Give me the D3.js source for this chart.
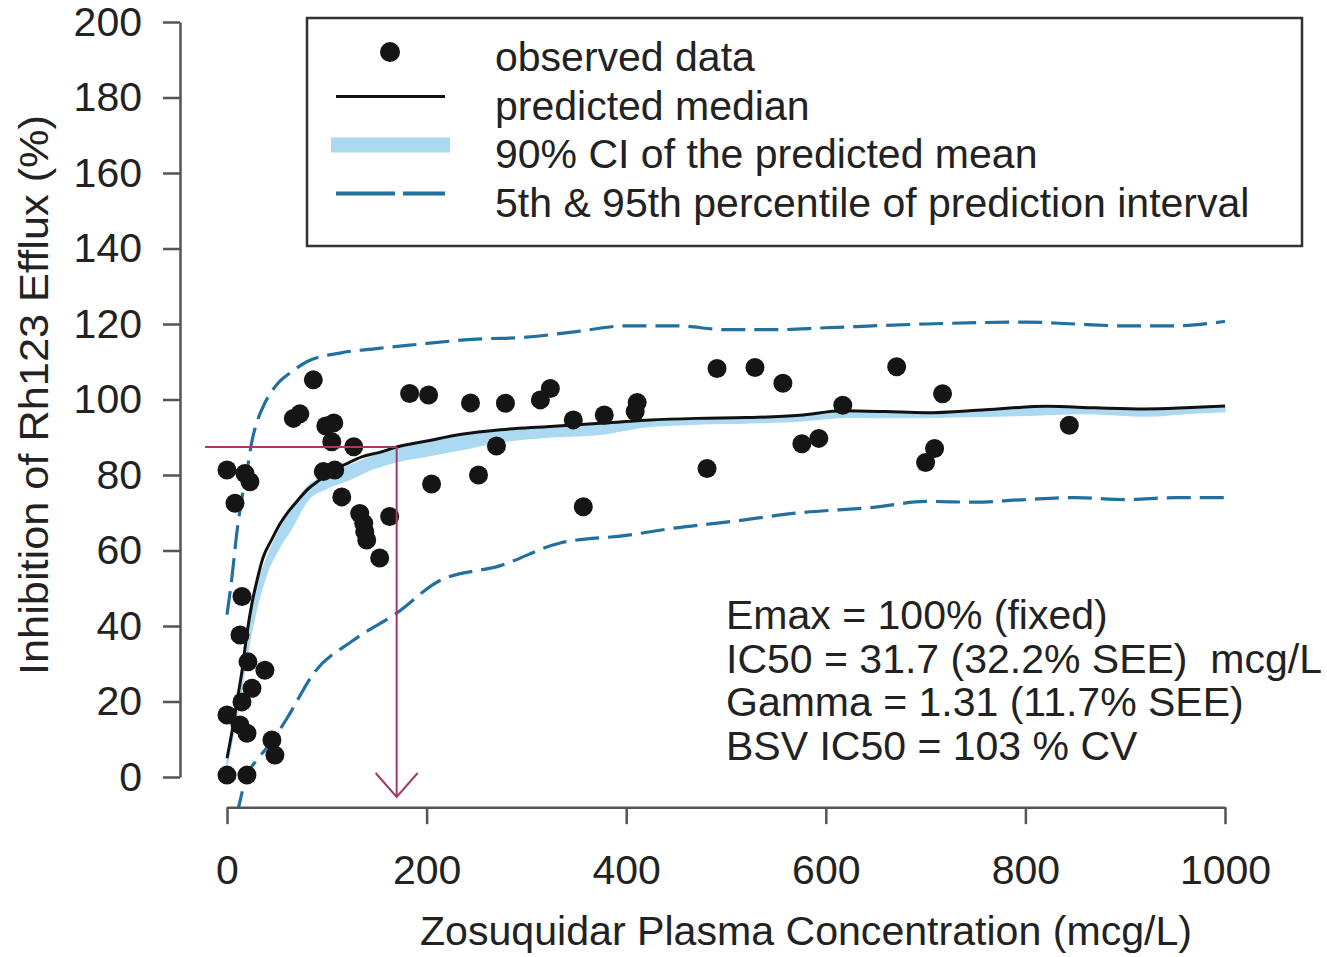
<!DOCTYPE html>
<html>
<head>
<meta charset="utf-8">
<script src="https://cdn.jsdelivr.net/npm/d3@7"></script>
<style>
  html, body { margin: 0; padding: 0; background: #fff; }
  svg { display: block; }
  text { font-family: "Liberation Sans", Arial, Helvetica, sans-serif; fill: #222; }
</style>
</head>
<body>
<svg id="chart" width="1327" height="957"></svg>
<script>
// ---------------- data ----------------
const xTicks = [0, 200, 400, 600, 800, 1000];
const yTicks = [0, 20, 40, 60, 80, 100, 120, 140, 160, 180, 200];

// observed data: concentration (mcg/L), inhibition (%)
const obsConc = [0, 20, 45, 48, 13, 20, 0, 15, 25, 38, 21, 13, 15, 153, 140, 138, 137, 133, 163, 115,
  96.5, 108, 8, 0, 18, 23, 105, 127, 99, 107, 66.5, 73, 86.5, 183, 202, 205, 244, 252, 270, 279,
  314, 324, 347, 357, 378, 409, 411, 481, 491, 529, 557, 576, 593, 617, 671, 700, 709, 717, 844];
const obsInh = [0.5, 0.5, 9.8, 5.8, 13.8, 11.6, 16.4, 19.9, 23.5, 28.3, 30.5, 37.6, 47.8, 58, 62.8, 65, 67.2, 69.8, 69, 74.2,
  80.9, 81.3, 72.5, 81.3, 80.4, 78.2, 88.8, 87.5, 93, 93.8, 95, 96.2, 105.2, 101.6, 101.2, 77.6, 99.1, 80, 87.7, 99,
  99.9, 102.9, 94.6, 71.6, 95.9, 96.8, 99.2, 81.7, 108.2, 108.5, 104.3, 88.3, 89.7, 98.5, 108.7, 83.3, 87, 101.5, 93.2];

// predicted median
const medConc = [0, 5, 10, 15, 20, 25, 30, 36, 45, 53, 62, 70, 80, 93, 105, 120, 135, 153, 170, 200, 235, 274,
  320, 374, 420, 470, 520, 574, 617, 660, 700, 760, 822, 870, 920, 960, 1000];
const medInh = [5, 12, 20, 28, 38, 46, 52, 58, 63, 67, 70.5, 73, 76, 78.7, 81, 83, 84.8, 86, 87.4, 89, 90.8, 92,
  92.8, 93.7, 94.5, 95, 95.2, 95.8, 97, 96.8, 96.5, 97.3, 98.2, 97.8, 97.5, 97.8, 98.3];

// 90% CI of the predicted mean
const ciConc = [0, 10, 20, 30, 40, 53, 65, 81, 100, 120, 145, 170, 200, 240, 274, 320, 374, 420, 470, 520, 574,
  620, 680, 740, 800, 860, 920, 960, 1000];
const ciLow = [3, 16, 32, 45, 54, 61, 66, 73.4, 76.5, 78.5, 81.5, 83.5, 85, 87, 88.8, 90, 90.8, 92.8, 93.5, 93.8, 94.3,
  95.3, 95.2, 95.5, 95.8, 96.3, 95.6, 96.3, 96.8];
const ciHigh = [5, 19, 36, 50, 58, 65.5, 71, 77, 80, 82.2, 84.8, 87, 88.5, 90.5, 91.8, 92.6, 93.5, 94.3, 94.8, 95, 95.6,
  96.8, 96.5, 96.8, 97.7, 97.7, 97.3, 97.6, 98.1];

// 95th percentile of prediction interval
const p95Conc = [0, 5, 10, 15, 20, 25, 30, 36, 50, 63, 80, 113, 150, 187, 250, 300, 350, 400, 450, 500, 550, 600,
  700, 800, 850, 900, 950, 1000];
const p95Inh = [43, 53, 65, 74, 81, 89, 94, 98, 104, 107, 110, 112.3, 113.5, 114.5, 116, 116.5, 118, 119.5, 119.5,
  118.5, 118.5, 119, 120, 120.5, 120, 119.5, 119.5, 120.7];

// 5th percentile of prediction interval
const p5Conc = [10, 20, 30, 46, 60, 87, 127, 170, 213, 274, 334, 400, 450, 500, 574, 650, 700, 750, 800, 850, 900, 950, 1000];
const p5Inh = [-10, 0.5, 4.5, 9.8, 15.5, 27.5, 36.3, 43.4, 52, 56, 62, 64, 66, 67.5, 70, 71.5, 73, 72.8, 73.5, 74, 73.5, 74, 74];

// reference crosshair (concentration at ~87% inhibition)
const refConc = [-22, 170];
const refInh = [87.4, -5.3];

const legendLabels = ["observed data", "predicted median", "90% CI of the predicted mean",
  "5th & 95th percentile of prediction interval"];
const noteLines = ["Emax = 100% (fixed)", "IC50 = 31.7 (32.2% SEE)\u00a0\u00a0mcg/L",
  "Gamma = 1.31 (11.7% SEE)", "BSV IC50 = 103 % CV"];
const xTitle = "Zosuquidar Plasma Concentration (mcg/L)";
const yTitle = "Inhibition of Rh123 Efflux (%)";

// ---------------- drawing ----------------
const svg = d3.select("#chart");
const x = d3.scaleLinear().domain([0, 1000]).range([227, 1225]);
const y = d3.scaleLinear().domain([0, 200]).range([777, 22]);

const BLUE_DASH = "#22709f";
const BAND = "#abd9f2";
const REF = "#a53a66";
const DOT = "#151515";

svg.append("defs").append("clipPath").attr("id", "plotclip")
  .append("rect")
  .attr("x", x(-40)).attr("y", y(208))
  .attr("width", x(1040) - x(-40)).attr("height", y(-8) - y(208));

const plot = svg.append("g").attr("clip-path", "url(#plotclip)");

// CI band
const ciData = ciConc.map((c, i) => ({c, lo: ciLow[i], hi: ciHigh[i]}));
plot.append("path").datum(ciData)
  .attr("fill", BAND).attr("stroke", BAND).attr("stroke-width", 1.5)
  .attr("d", d3.area().x(d => x(d.c)).y0(d => y(d.lo)).y1(d => y(d.hi)).curve(d3.curveMonotoneX));

const lineGen = d3.line().x(d => x(d[0])).y(d => y(d[1])).curve(d3.curveMonotoneX);

// prediction interval lines
[[p95Conc, p95Inh], [p5Conc, p5Inh]].forEach(([cs, vs]) => {
  plot.append("path").datum(cs.map((c, i) => [c, vs[i]]))
    .attr("fill", "none").attr("stroke", BLUE_DASH).attr("stroke-width", 3.2)
    .attr("stroke-dasharray", "24,9").attr("d", lineGen);
});

// median
plot.append("path").datum(medConc.map((c, i) => [c, medInh[i]]))
  .attr("fill", "none").attr("stroke", "#111").attr("stroke-width", 3)
  .attr("d", lineGen);

// reference crosshair
svg.append("line").attr("x1", x(refConc[0])).attr("x2", x(refConc[1]))
  .attr("y1", y(refInh[0])).attr("y2", y(refInh[0]))
  .attr("stroke", REF).attr("stroke-width", 2);
svg.append("line").attr("x1", x(refConc[1])).attr("x2", x(refConc[1]))
  .attr("y1", y(refInh[0])).attr("y2", y(refInh[1]))
  .attr("stroke", REF).attr("stroke-width", 2);
{
  const tx = x(refConc[1]), ty = y(refInh[1]);
  svg.append("path")
    .attr("d", `M${tx - 21},${ty - 24}L${tx},${ty}L${tx + 21},${ty - 24}`)
    .attr("fill", "none").attr("stroke", REF).attr("stroke-width", 2);
}

// observed points
plot.selectAll("circle.obs").data(obsConc.map((c, i) => [c, obsInh[i]]))
  .enter().append("circle").attr("class", "obs")
  .attr("cx", d => x(d[0])).attr("cy", d => y(d[1])).attr("r", 9.5)
  .attr("fill", DOT);

// axes
const AXIS = "#555";
const xAxis = svg.append("g").attr("transform", `translate(0,${y(-8)})`)
  .call(d3.axisBottom(x).tickValues(xTicks).tickFormat(d3.format("d"))
    .tickSize(17).tickSizeOuter(0).tickPadding(31));
const yAxis = svg.append("g").attr("transform", "translate(180,0)")
  .call(d3.axisLeft(y).tickValues(yTicks).tickFormat(d3.format("d"))
    .tickSize(17).tickSizeOuter(0).tickPadding(21));
[xAxis, yAxis].forEach(g => {
  g.select(".domain").attr("stroke", AXIS).attr("stroke-width", 2.5);
  g.selectAll(".tick line").attr("stroke", AXIS).attr("stroke-width", 2.5);
  g.selectAll(".tick text").attr("font-size", 41).attr("fill", "#222")
    .attr("font-family", '"Liberation Sans", Arial, sans-serif');
});

// axis titles
svg.append("text").attr("x", 806).attr("y", 945).attr("text-anchor", "middle")
  .attr("font-size", 40).attr("font-family", '"Liberation Sans Narrow", "Liberation Sans", Arial, sans-serif')
  .attr("textLength", 772).attr("lengthAdjust", "spacingAndGlyphs").text(xTitle);
svg.append("text").attr("transform", "translate(48,395) rotate(-90)").attr("text-anchor", "middle")
  .attr("font-size", 40).attr("font-family", '"Liberation Sans Narrow", "Liberation Sans", Arial, sans-serif')
  .attr("textLength", 560).attr("lengthAdjust", "spacingAndGlyphs").text(yTitle);

// legend
const lg = svg.append("g");
lg.append("rect").attr("x", 307).attr("y", 18).attr("width", 995).attr("height", 228)
  .attr("fill", "#fff").attr("stroke", "#333").attr("stroke-width", 2.5);
const rowY = i => 58 + i * 48.5;
lg.append("circle").attr("cx", 390).attr("cy", rowY(0) - 6).attr("r", 10).attr("fill", DOT);
lg.append("line").attr("x1", 336).attr("x2", 445).attr("y1", rowY(1) - 10).attr("y2", rowY(1) - 10)
  .attr("stroke", "#111").attr("stroke-width", 3);
lg.append("line").attr("x1", 331).attr("x2", 450).attr("y1", rowY(2) - 10).attr("y2", rowY(2) - 10)
  .attr("stroke", BAND).attr("stroke-width", 15);
lg.append("line").attr("x1", 336).attr("x2", 445).attr("y1", rowY(3) - 10).attr("y2", rowY(3) - 10)
  .attr("stroke", BLUE_DASH).attr("stroke-width", 4).attr("stroke-dasharray", "59,8");
legendLabels.forEach((t, i) => {
  lg.append("text").attr("x", 495).attr("y", rowY(i) + 13).attr("font-size", 41).text(t);
});

// model annotation
noteLines.forEach((t, i) => {
  svg.append("text").attr("x", 726).attr("y", 629 + i * 43.5).attr("font-size", 41).text(t);
});
</script>
</body>
</html>
